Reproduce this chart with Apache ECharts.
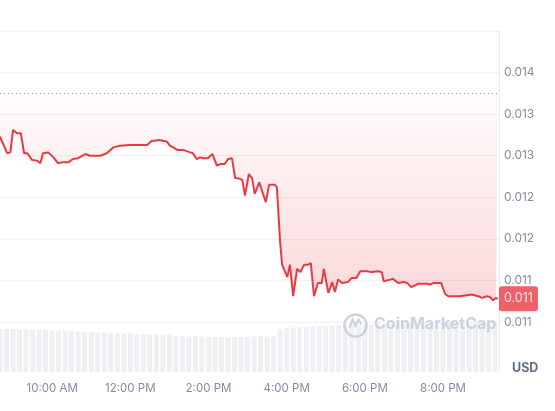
<!DOCTYPE html>
<html>
<head>
<meta charset="utf-8">
<script src="https://cdn.jsdelivr.net/npm/echarts@6/dist/echarts.min.js"></script>
<style>
html,body{margin:0;padding:0;background:#fff;}
#chart{width:555px;height:411px;}
</style>
</head>
<body>
<div id="chart"></div>
<script>
// ---- data ----
const priceTimes = ['08:40','08:51','08:56','09:00','09:06','09:12','09:17','09:22','09:29','09:37','09:42','09:46','09:54','10:02','10:09','10:15','10:25','10:32','10:40','10:51','10:58','11:14','11:24','11:34','11:44','12:00','12:04','12:26','12:33','12:38','12:44','12:50','12:56','13:01','13:06','13:12','13:21','13:32','13:36','13:42','13:47','13:52','13:59','14:06','14:09','14:13','14:18','14:25','14:30','14:36','14:41','14:45','14:52','14:56','15:02','15:07','15:11','15:18','15:28','15:33','15:42','15:45','15:50','15:53','16:01','16:05','16:10','16:16','16:21','16:27','16:33','16:37','16:42','16:48','16:54','16:57','17:04','17:10','17:14','17:19','17:25','17:34','17:40','17:47','17:53','18:03','18:10','18:20','18:26','18:29','18:39','18:43','18:51','19:00','19:05','19:11','19:22','19:35','19:40','19:46','19:57','20:03','20:08','20:26','20:44','20:54','21:00','21:07','21:12','21:17','21:21','21:24'];
const priceValues = [0.01323,0.01303,0.01304,0.01331,0.01327,0.01327,0.01303,0.01303,0.01295,0.01294,0.01291,0.01303,0.01304,0.01298,0.01291,0.01292,0.01292,0.01296,0.01297,0.01302,0.01300,0.01300,0.01303,0.01310,0.01312,0.01313,0.01313,0.01313,0.01318,0.01318,0.01319,0.01318,0.01317,0.01312,0.01310,0.01307,0.01307,0.01304,0.01303,0.01296,0.01298,0.01297,0.01297,0.01302,0.01301,0.01288,0.01290,0.01290,0.01296,0.01297,0.01273,0.01273,0.01271,0.01252,0.01278,0.01273,0.01254,0.01268,0.01244,0.01265,0.01265,0.01262,0.01196,0.01169,0.01154,0.01169,0.01131,0.01164,0.01160,0.01169,0.01169,0.01171,0.01131,0.01147,0.01147,0.01164,0.01135,0.01148,0.01136,0.01151,0.01147,0.01148,0.01153,0.01153,0.01161,0.01161,0.01160,0.01161,0.01160,0.01149,0.01151,0.01152,0.01147,0.01148,0.01147,0.01142,0.01146,0.01146,0.01145,0.01147,0.01147,0.01134,0.01131,0.01131,0.01133,0.01131,0.01129,0.01131,0.01130,0.01126,0.01129,0.01128];
const baselinePrice = 0.013747;

const volumeStart = '08:40';
const volumeStepMinutes = 10;
const volumeValues = [86,86,86,85,85,85,84,84,83,83,82,82,81,80,80,79,79,78,78,77,77,76,76,75,75,74,74,72,72,71,71,71,70,70,70,70,70,70,71,71,71,71,72,86,88,89,90,90,91,92,92,93,94,94,95,95,95,96,96,96,96,97,97,97,97,97,97,97,98,98,98,98,98,98,98,98,98];

const xTickValues = [10,12,14,16,18,20];
const xTickLabels = ['10:00 AM','12:00 PM','2:00 PM','4:00 PM','6:00 PM','8:00 PM'];
const yTickLabels = ['0.011','0.011','0.012','0.012','0.013','0.013','0.014',''];
const yMin = 0.011, yMax = 0.0145, yStep = 0.0005;
const xMin = 8.667, xMax = 21.432;

// ---- helpers ----
function toHours(t){ const p=t.split(':'); return +p[0] + (+p[1])/60; }
const priceData = priceTimes.map((t,i)=>[toHours(t), priceValues[i]]);
const volStartH = toHours(volumeStart);
const volumeData = volumeValues.map((v,i)=>[volStartH + i*volumeStepMinutes/60, v]);
const lastPrice = priceValues[priceValues.length-1];

const RED = '#ea3943';
const GRID_LINE = '#eff2f5';
const LABEL = '#858ca2';
const FONT = 'Inter';

const chart = echarts.init(document.getElementById('chart'), null, {renderer:'canvas'});
chart.setOption({
  animation:false,
  backgroundColor:'#ffffff',
  grid:[
    {left:-2, right:56, top:31, height:291},
    {left:-2, right:56, top:322, height:50}
  ],
  xAxis:[
    {type:'value', gridIndex:0, min:xMin, max:xMax, show:false},
    {type:'value', gridIndex:1, min:xMin, max:xMax,
      axisLine:{show:false}, axisTick:{show:false}, splitLine:{show:false},
      axisLabel:{customValues:xTickValues, margin:11, color:LABEL, fontSize:11.5, fontFamily:FONT,
        formatter:function(v){ const i=xTickValues.findIndex(x=>Math.abs(x-v)<1e-6); return i>=0?xTickLabels[i]:''; }}
    }
  ],
  yAxis:[
    {type:'value', gridIndex:0, position:'right', min:yMin, max:yMax, interval:yStep,
      axisLine:{show:true, lineStyle:{color:'#e9ecf1'}}, axisTick:{show:false},
      splitLine:{show:true, lineStyle:{color:GRID_LINE, width:1}},
      axisLabel:{margin:5, color:LABEL, fontSize:12, fontFamily:FONT,
        formatter:function(v){ const i=Math.round((v-yMin)/yStep); return yTickLabels[i]||''; }}
    },
    {type:'value', gridIndex:1, position:'right', min:0, max:100,
      axisLine:{show:true, lineStyle:{color:'#e9ecf1'}}, axisTick:{show:false},
      splitLine:{show:false}, axisLabel:{show:false}
    }
  ],
  series:[
    {type:'bar', xAxisIndex:1, yAxisIndex:1, data:volumeData, barWidth:5,
      itemStyle:{color:'#eef0f4'}, silent:true},
    {type:'line', xAxisIndex:0, yAxisIndex:0, data:priceData, showSymbol:false, symbol:'none',
      lineStyle:{color:RED, width:2}, clip:false, z:3,
      areaStyle:{origin:baselinePrice,
        color:new echarts.graphic.LinearGradient(0,0,0,1,[
          {offset:0,color:'rgba(234,57,67,0.02)'},
          {offset:1,color:'rgba(234,57,67,0.28)'}
        ])}
    },
    {type:'line', name:'baseline', xAxisIndex:0, yAxisIndex:0, data:[[xMin, baselinePrice],[xMax, baselinePrice]],
      showSymbol:false, symbol:'none', silent:true, z:2,
      lineStyle:{type:[1,3], color:'#8f98aa', width:1}},
    {type:'scatter', name:'lastPrice', xAxisIndex:0, yAxisIndex:0, data:[[xMax, lastPrice]],
      symbolSize:0, clip:false, silent:true, z:10,
      label:{show:true, position:'right', distance:0, backgroundColor:RED, color:'#fff',
        fontFamily:FONT, fontSize:12.5, padding:[6,5,6,5], borderRadius:3,
        formatter:function(p){ return (+p.value[1]).toFixed(3); }}}
  ],
  graphic:[
    {type:'circle', left:342, top:312, shape:{r:11}, style:{fill:'none', stroke:'#cdd3de', lineWidth:2.5}, z:100},
    {type:'polyline', left:347, top:317, shape:{points:[[0,11],[3,3],[6,9],[9,3],[12,8]]}, style:{fill:'none', stroke:'#cdd3de', lineWidth:2.2}, z:100},
    {type:'text', left:374, top:316, style:{text:'CoinMarketCap', fill:'#cdd3de', font:'bold 16px Inter'}, z:100},
    {type:'text', left:512, top:362, style:{text:'USD', fill:'#616e85', font:'bold 12.5px Inter'}, z:100}
  ]
});
</script>
</body>
</html>
